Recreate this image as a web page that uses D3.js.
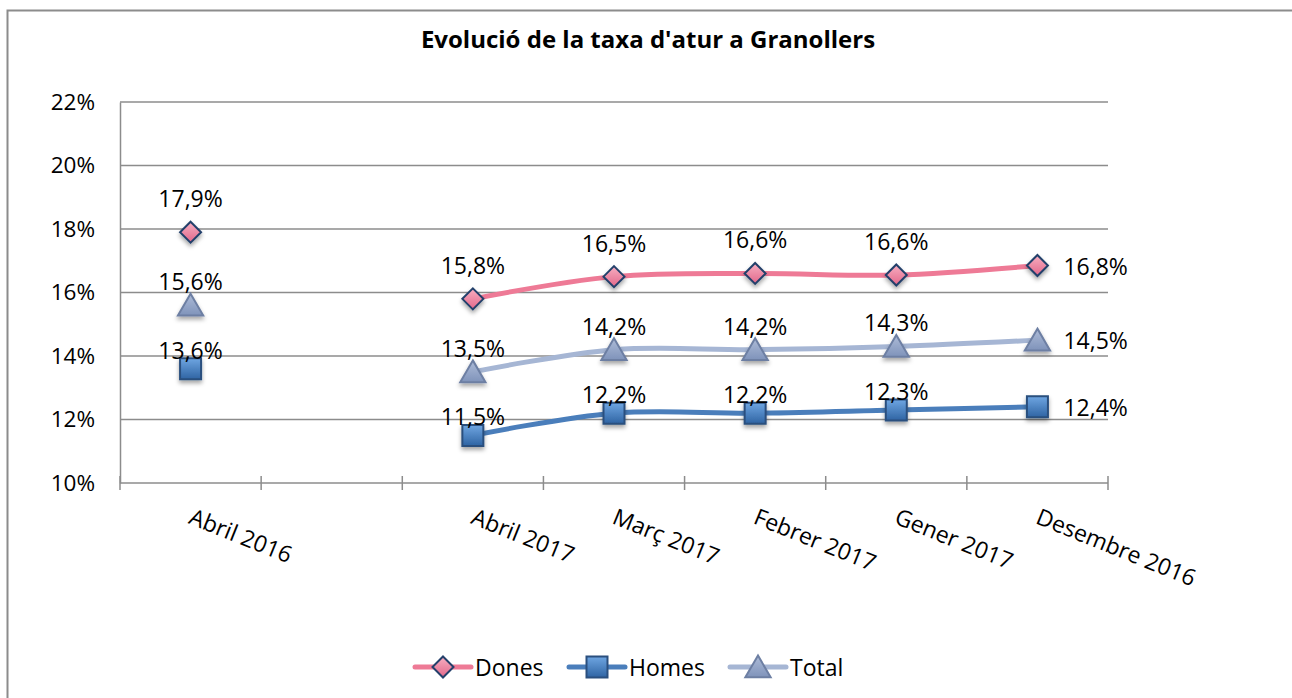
<!DOCTYPE html>
<html>
<head>
<meta charset="utf-8">
<script src="https://cdn.jsdelivr.net/npm/d3@7"></script>
<style>
  body { margin: 0; background: #fff; }
  text { font-family: "Open Sans", sans-serif; fill: #000; }
</style>
</head>
<body>
<div id="chart"></div>
<script>
var width = 1292;
var height = 698;

// Data
var categories = ["Abril 2016", "", "Abril 2017", "Març 2017", "Febrer 2017", "Gener 2017", "Desembre 2016"];
var dones = [17.9, null, 15.8, 16.5, 16.6, 16.55, 16.85];
var homes = [13.6, null, 11.5, 12.2, 12.2, 12.3, 12.4];
var total = [15.6, null, 13.5, 14.2, 14.2, 14.3, 14.5];
var donesLabels = ["17,9%", "", "15,8%", "16,5%", "16,6%", "16,6%", "16,8%"];
var homesLabels = ["13,6%", "", "11,5%", "12,2%", "12,2%", "12,3%", "12,4%"];
var totalLabels = ["15,6%", "", "13,5%", "14,2%", "14,2%", "14,3%", "14,5%"];
var yTicks = [10, 12, 14, 16, 18, 20, 22];

var series = [
  { name: "Dones", values: dones, labels: donesLabels, color: "#EE7A96", marker: "diamond", dy: -34 },
  { name: "Homes", values: homes, labels: homesLabels, color: "#4A7EBB", marker: "square", dy: -19 },
  { name: "Total", values: total, labels: totalLabels, color: "#A6B6D4", marker: "triangle", dy: -24 }
];

var svg = d3.select("#chart").append("svg")
  .attr("width", width)
  .attr("height", height);

// gradients for markers
var defs = svg.append("defs");
function grad(id, c1, c2) {
  var g = defs.append("linearGradient").attr("id", id)
    .attr("x1", 0).attr("y1", 0).attr("x2", 0).attr("y2", 1);
  g.append("stop").attr("offset", "0%").attr("stop-color", c1);
  g.append("stop").attr("offset", "100%").attr("stop-color", c2);
}
grad("gDones", "#F7AFC1", "#E2678A");
grad("gHomes", "#6FA6E2", "#2F64A3");
grad("gTotal", "#AEBCD8", "#7F93BA");
var sh = defs.append("filter").attr("id", "shadow").attr("x", "-50%").attr("y", "-50%").attr("width", "200%").attr("height", "200%");
sh.append("feDropShadow").attr("dx", 0).attr("dy", 3).attr("stdDeviation", 2).attr("flood-color", "#000").attr("flood-opacity", 0.35);

// outer border
svg.append("rect")
  .attr("x", 7.5).attr("y", 10.5)
  .attr("width", width + 20).attr("height", height + 20)
  .attr("fill", "none").attr("stroke", "#8c8c8c").attr("stroke-width", 2);

// title
svg.append("text")
  .attr("x", 648).attr("y", 48)
  .attr("text-anchor", "middle")
  .style("font-weight", "bold")
  .style("font-size", "24px")
  .text("Evolució de la taxa d'atur a Granollers");

var x = d3.scaleBand()
  .domain(d3.range(categories.length))
  .range([120, 1108]);

var y = d3.scaleLinear()
  .domain([10, 22])
  .range([483, 102]);

// gridlines
svg.append("g")
  .selectAll("line")
  .data(yTicks)
  .enter().append("line")
    .attr("x1", 120).attr("x2", 1108)
    .attr("y1", function (d) { return y(d); })
    .attr("y2", function (d) { return y(d); })
    .attr("stroke", "#8c8c8c").attr("stroke-width", 1.5);

// y axis
var yAxis = svg.append("g")
  .attr("transform", "translate(120,0)")
  .call(d3.axisLeft(y).tickValues(yTicks).tickSize(0).tickPadding(25)
    .tickFormat(function (d) { return d + "%"; }));
yAxis.select(".domain").attr("stroke", "#8c8c8c").attr("stroke-width", 1.5);
yAxis.selectAll("text").style("font-size", "22.5px").style("font-family", "Open Sans");

// x axis with cross ticks at band edges
var edges = d3.range(categories.length + 1).map(function (i) {
  return i < categories.length ? x(i) : x.range()[1];
});
var xg = svg.append("g");
xg.selectAll("line")
  .data(edges)
  .enter().append("line")
    .attr("x1", function (d) { return d; })
    .attr("x2", function (d) { return d; })
    .attr("y1", 476).attr("y2", 490)
    .attr("stroke", "#8c8c8c").attr("stroke-width", 1.5);
xg.selectAll("text")
  .data(categories)
  .enter().append("text")
    .attr("transform", function (d, i) {
      return "translate(" + (x(i) + x.bandwidth() / 2 - 3) + ",523) rotate(22)";
    })
    .style("font-size", "23px")
    .text(function (d) { return d; });

// lines
var line = d3.line()
  .defined(function (d) { return d != null; })
  .x(function (d, i) { return x(i) + x.bandwidth() / 2; })
  .y(function (d) { return y(d); })
  .curve(d3.curveCatmullRom.alpha(0));

function markerPath(type, s) {
  if (type === "diamond") return "M0," + (-s) + "L" + s + ",0L0," + s + "L" + (-s) + ",0Z";
  if (type === "square") return "M" + (-s) + "," + (-s) + "H" + s + "V" + s + "H" + (-s) + "Z";
  return "M0," + (-s) + "L" + (s * 1.1) + "," + (s * 0.9) + "H" + (-s * 1.1) + "Z";
}
var markerStyle = {
  diamond: { size: 10.5, fill: "url(#gDones)", stroke: "#24406B" },
  square: { size: 10.5, fill: "url(#gHomes)", stroke: "#2A4F7E" },
  triangle: { size: 11.5, fill: "url(#gTotal)", stroke: "#6D7FA3" }
};

var drawOrder = [series[2], series[1], series[0]];
drawOrder.forEach(function (s) {
  svg.append("path")
    .datum(s.values)
    .attr("d", line)
    .attr("fill", "none")
    .attr("stroke", s.color)
    .attr("stroke-width", 5)
    .attr("stroke-linecap", "round");
});

drawOrder.forEach(function (s) {
  var ms = markerStyle[s.marker];
  var g = svg.append("g");
  var pts = s.values.map(function (v, i) { return { v: v, i: i, label: s.labels[i] }; })
    .filter(function (d) { return d.v != null; });
  g.selectAll("path")
    .data(pts)
    .enter().append("path")
      .attr("transform", function (d) {
        return "translate(" + (x(d.i) + x.bandwidth() / 2) + "," + y(d.v) + ")";
      })
      .attr("d", markerPath(s.marker, ms.size))
      .attr("fill", ms.fill)
      .attr("stroke", ms.stroke)
      .attr("stroke-width", 2)
      .attr("filter", "url(#shadow)");
  g.selectAll("text")
    .data(pts)
    .enter().append("text")
      .attr("x", function (d) {
        var cx = x(d.i) + x.bandwidth() / 2;
        return d.i === categories.length - 1 ? cx + 26 : cx;
      })
      .attr("y", function (d) {
        return d.i === categories.length - 1 ? y(d.v) : y(d.v) + s.dy;
      })
      .attr("text-anchor", function (d) { return d.i === categories.length - 1 ? "start" : "middle"; })
      .attr("dominant-baseline", "central")
      .style("font-size", "23px")
      .text(function (d) { return d.label; });
});

// legend
var legendX = [415, 569, 730];
var legend = svg.append("g");
series.forEach(function (s, k) {
  var ms = markerStyle[s.marker];
  var lx = legendX[k];
  legend.append("line")
    .attr("x1", lx).attr("x2", lx + 56)
    .attr("y1", 667).attr("y2", 667)
    .attr("stroke", s.color).attr("stroke-width", 5)
    .attr("stroke-linecap", "round");
  legend.append("path")
    .attr("transform", "translate(" + (lx + 28) + ",667)")
    .attr("d", markerPath(s.marker, ms.size))
    .attr("fill", ms.fill).attr("stroke", ms.stroke).attr("stroke-width", 2);
  legend.append("text")
    .attr("x", lx + 60).attr("y", 667)
    .attr("dominant-baseline", "central")
    .style("font-size", "23px")
    .text(s.name);
});
</script>
</body>
</html>
